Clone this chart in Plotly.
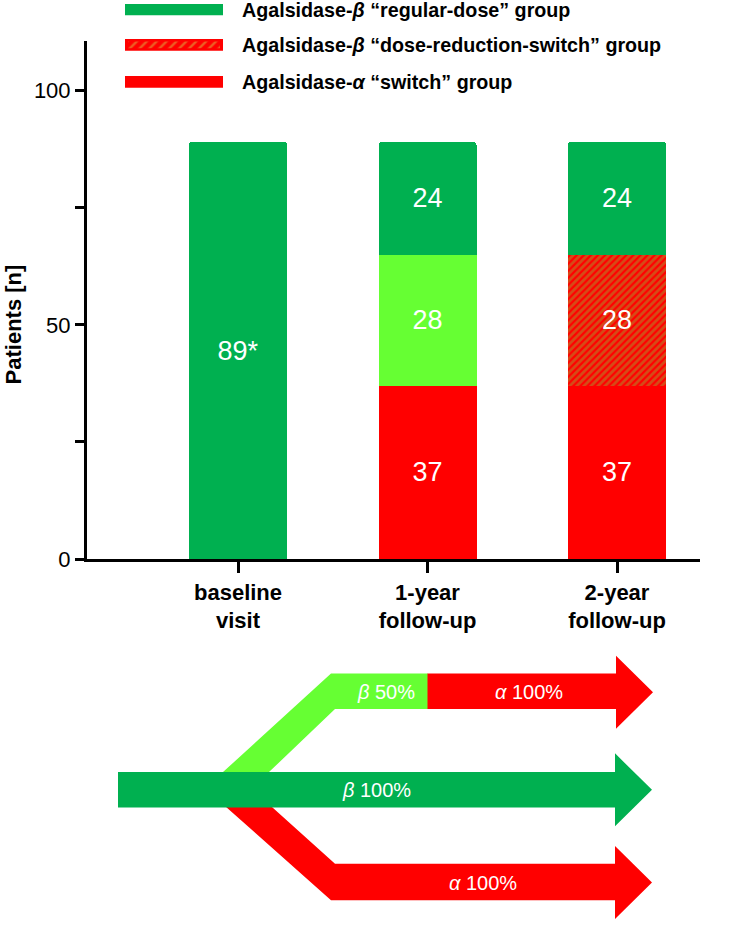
import plotly.graph_objects as go

W, H = 733, 934
FONT = "Liberation Sans, Arial, sans-serif"

# ---- data ----
categories = ["baseline visit", "1-year follow-up", "2-year follow-up"]
tick_labels = ["<b>baseline</b><br><b>visit</b>", "<b>1-year</b><br><b>follow-up</b>", "<b>2-year</b><br><b>follow-up</b>"]
alpha_switch = [None, 37, 37]
beta_half_dose = [None, 28, None]
beta_reduction_switch = [None, None, 28]
beta_regular = [89, 24, 24]
regular_labels = ["89*", "24", "24"]
y_ticks = [0, 25, 50, 75, 100]
y_tick_text = ["0", "", "50", "", "100"]
legend_names = [
    "Agalsidase-<i>β</i> “regular-dose” group",
    "Agalsidase-<i>β</i> “dose-reduction-switch” group",
    "Agalsidase-<i>α</i> “switch” group",
]
arrow_texts = ["<i>β</i> 50%", "<i>α</i> 100%", "<i>β</i> 100%", "<i>α</i> 100%"]

GREEN = "#00B050"
LIGHT = "#66FF33"
RED = "#FF0000"
OLIVE = "#A99A2E"
GOLD = "#D8BE48"

BAR_W = 0.517
txt = dict(color="white", size=27, family=FONT)

fig = go.Figure()
fig.add_trace(go.Bar(x=categories, y=alpha_switch, marker=dict(color=RED, line=dict(width=0)),
                     width=BAR_W, text=[None if v is None else str(v) for v in alpha_switch],
                     textposition="inside", insidetextanchor="middle", textangle=0,
                     constraintext="none", textfont=txt, name=legend_names[2]))
fig.add_trace(go.Bar(x=categories, y=beta_half_dose, marker=dict(color=LIGHT, line=dict(width=0)),
                     width=BAR_W, text=[None if v is None else str(v) for v in beta_half_dose],
                     textposition="inside", insidetextanchor="middle", textangle=0,
                     constraintext="none", textfont=txt, name="beta 50%"))
fig.add_trace(go.Bar(x=categories, y=beta_reduction_switch,
                     marker=dict(color=RED, line=dict(width=0),
                                 pattern=dict(shape="/", fgcolor=OLIVE, bgcolor=RED, size=5, solidity=0.55)),
                     width=BAR_W, text=[None if v is None else str(v) for v in beta_reduction_switch],
                     textposition="inside", insidetextanchor="middle", textangle=0,
                     constraintext="none", textfont=txt, name=legend_names[1]))
fig.add_trace(go.Bar(x=categories, y=beta_regular, marker=dict(color=GREEN, line=dict(width=0)),
                     width=BAR_W, text=regular_labels,
                     textposition="inside", insidetextanchor="middle", textangle=0,
                     constraintext="none", textfont=txt, name=legend_names[0]))

# ---- legend swatches on a pixel overlay axis ----
sw_rows = [(4, 15.5), (39.5, 51.5), (77, 89)]
sw_x0, sw_x1 = 125, 223
sw_colors = [GREEN, RED, RED]
for (y0, y1), c in zip(sw_rows, sw_colors):
    fig.add_trace(go.Scatter(x=[sw_x0, sw_x1, sw_x1, sw_x0, sw_x0], y=[y0, y0, y1, y1, y0],
                             mode="lines", fill="toself", fillcolor=c, line=dict(width=0, color=c),
                             xaxis="x2", yaxis="y2", hoverinfo="skip"))
# hatched inner part of the middle swatch
hy0, hy1 = sw_rows[1][0] + 2.5, sw_rows[1][1] - 2.5
fig.add_trace(go.Scatter(x=[sw_x0 + 3, sw_x1 - 3, sw_x1 - 3, sw_x0 + 3, sw_x0 + 3], y=[hy0, hy0, hy1, hy1, hy0],
                         mode="lines", fill="toself", fillcolor=RED, line=dict(width=0, color=RED),
                         fillpattern=dict(shape="/", fgcolor=GOLD, bgcolor=RED, size=7, solidity=0.35),
                         xaxis="x2", yaxis="y2", hoverinfo="skip"))
for (y0, y1), name in zip(sw_rows, legend_names):
    fig.add_annotation(x=240, y=(y0 + y1) / 2 + 0.5, xref="x2", yref="y2", text="<b>" + name + "</b>",
                       showarrow=False, xanchor="left", yanchor="middle",
                       font=dict(size=19.7, color="black", family=FONT))

# y axis title
fig.add_annotation(x=13, y=329, xref="x2", yref="y2", text="<b>Patients [n]</b>", textangle=-90,
                   showarrow=False, xanchor="center", yanchor="middle",
                   font=dict(size=22, color="black", family=FONT))

# ---- treatment flow diagram ----
def path(pts):
    return "M " + " L ".join(f"{x},{y}" for x, y in pts) + " Z"

shapes = []
shapes.append(dict(type="path", path=path([(215, 790), (223, 783), (331, 683), (428, 683), (428, 719),
                                           (335, 719), (269, 783), (262, 790)]),
                   fillcolor=LIGHT, line=dict(width=0), xref="x2", yref="y2"))
shapes.append(dict(type="path", path=path([(427.5, 683), (616, 683), (616, 665), (653, 702), (616, 739),
                                           (616, 719), (427.5, 719)]),
                   fillcolor=RED, line=dict(width=0), xref="x2", yref="y2"))
shapes.append(dict(type="path", path=path([(219, 812), (331, 913), (615, 913), (615, 932), (652, 895),
                                           (615, 858), (615, 876), (335, 876), (265, 812)]),
                   fillcolor=RED, line=dict(width=0), xref="x2", yref="y2"))
shapes.append(dict(type="path", path=path([(118, 783), (615, 783), (615, 764), (652, 801), (615, 838),
                                           (615, 819), (118, 819)]),
                   fillcolor=GREEN, line=dict(width=0), xref="x2", yref="y2"))

arrow_pos = [(386, 702), (529, 702), (376, 801), (483, 895)]
for (x, y), t in zip(arrow_pos, arrow_texts):
    fig.add_annotation(x=x, y=y, xref="x2", yref="y2", text=t, showarrow=False,
                       xanchor="center", yanchor="middle",
                       font=dict(size=20, color="white", family=FONT))

fig.update_layout(
    width=W, height=H,
    margin=dict(l=0, r=0, t=0, b=0, pad=0),
    paper_bgcolor="white", plot_bgcolor="rgba(0,0,0,0)",
    barmode="stack", barcornerradius=3, showlegend=False,
    font=dict(family=FONT, color="black"),
    shapes=shapes,
    xaxis=dict(domain=[87 / W, 700 / W], range=[-0.797, 2.438], type="category",
               tickvals=categories, ticktext=tick_labels,
               showline=True, linewidth=3, linecolor="black",
               ticks="outside", ticklen=11, tickwidth=3, tickcolor="black",
               tickfont=dict(size=22, color="black", family=FONT),
               showgrid=False, zeroline=False, anchor="y", fixedrange=True),
    yaxis=dict(domain=[(H - 567) / H, (H - 42) / H], range=[0, 110.5],
               tickvals=y_ticks, ticktext=y_tick_text,
               showline=True, linewidth=3, linecolor="black",
               ticks="outside", ticklen=9, tickwidth=3, tickcolor="black",
               tickfont=dict(size=22, color="black", family=FONT), ticklabelstandoff=0,
               showgrid=False, zeroline=False, anchor="x", fixedrange=True),
    xaxis2=dict(domain=[0, 1], range=[0, W], visible=False, anchor="y2", fixedrange=True),
    yaxis2=dict(domain=[0, 1], range=[H, 0], visible=False, anchor="x2", fixedrange=True),
)

post = ("document.documentElement.style.margin='0';document.body.style.margin='0';"
        "document.documentElement.style.overflow='hidden';document.body.style.overflow='hidden';"
        "var gd=document.getElementById('{plot_id}');gd.style.position='fixed';"
        "gd.style.top='0px';gd.style.left='0px';")
fig.write_html("out.html", config={"displayModeBar": False}, post_script=post)
